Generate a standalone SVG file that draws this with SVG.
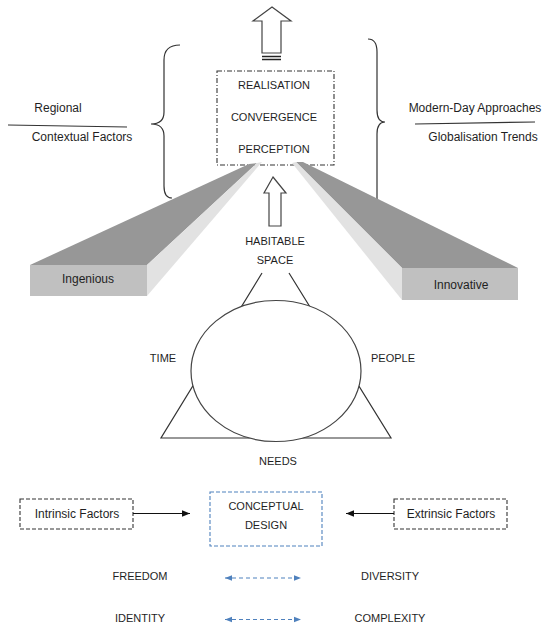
<svg xmlns="http://www.w3.org/2000/svg" width="547" height="627" viewBox="0 0 547 627">
<defs>
<style>
text{font-family:"Liberation Sans",Arial,sans-serif;fill:#1f1f1f;text-anchor:middle}
.c{font-size:11px}
.m{font-size:12px}
.ln{fill:none;stroke:#333;stroke-width:1.2}
.ol{fill:#fff;stroke:#444;stroke-width:1.2}
.dk{fill:#979797}
.fr{fill:#c0c0c0}
.lt{fill:#e2e2e2}
.bl{stroke:#4f81bd;stroke-width:1.2;stroke-dasharray:4,3;fill:none}
</style>
<marker id="ah" viewBox="0 0 10 10" refX="10" refY="5" markerWidth="8" markerHeight="8" orient="auto-start-reverse" markerUnits="userSpaceOnUse"><path d="M0,1 L10,5 L0,9 z" fill="#111"/></marker>
<marker id="bh" viewBox="0 0 10 10" refX="10" refY="5" markerWidth="7" markerHeight="7" orient="auto-start-reverse" markerUnits="userSpaceOnUse"><path d="M0,1 L10,5 L0,9 z" fill="#4f81bd"/></marker>
</defs>
<rect width="547" height="627" fill="#fff"/>

<g id="braces">
<path class="ln" d="M180,45 Q164,45 164,60 L164,112 Q164,124 151,124 Q164,124 164,136 L164,186 Q164,198 172,198"/>
<path class="ln" d="M368,39 Q377,39 377,52 L377,110 Q377,122 385,122 Q377,122 377,134 L377,200"/>
</g>

<g id="left-labels">
<text class="m" x="58" y="112">Regional</text>
<line x1="8" y1="125" x2="127" y2="127" stroke="#333" stroke-width="1.2"/>
<text class="m" x="82" y="141">Contextual Factors</text>
</g>
<g id="right-labels">
<text class="m" x="475" y="112">Modern-Day Approaches</text>
<line x1="415" y1="124" x2="535" y2="122" stroke="#333" stroke-width="1.2"/>
<text class="m" x="483" y="141">Globalisation Trends</text>
</g>

<g id="top-arrow">
<polygon class="ol" points="272,7 291,21 281,21 281,53 262,53 262,21 253,21"/>
<line x1="262" y1="56.5" x2="281" y2="56.5" stroke="#222" stroke-width="1.5"/>
<line x1="262" y1="59.5" x2="281" y2="59.5" stroke="#222" stroke-width="1.5"/>
</g>

<g id="core">
<rect x="217" y="71" width="117" height="94" fill="none" stroke="#333" stroke-width="1.1" stroke-dasharray="5,2,1,2"/>
<text class="c" x="274" y="89">REALISATION</text>
<text class="c" x="274" y="121">CONVERGENCE</text>
<text class="c" x="274" y="153">PERCEPTION</text>
</g>

<g id="beam-left">
<polygon class="dk" points="30,265 147,265 257,163 249,164"/>
<polygon class="lt" points="147,265 147,296 262,162 257,163"/>
<rect class="fr" x="30" y="265" width="117" height="31"/>
<text class="m" x="88" y="283">Ingenious</text>
</g>
<g id="beam-right">
<polygon class="dk" points="296,162 303,162 518,268 402,268"/>
<polygon class="lt" points="292,163 296,162 402,268 402,300"/>
<rect class="fr" x="402" y="268" width="116" height="32"/>
<text class="m" x="461" y="289">Innovative</text>
</g>

<g id="habitable">
<polygon class="ol" points="273,177 286,193 281,193 281,226 269,226 269,193 264,193"/>
<text class="c" x="275" y="245">HABITABLE</text>
<text class="c" x="275" y="264">SPACE</text>
</g>

<g id="triangle">
<polyline class="ln" points="262,273 161,438 391,438 289,273"/>
<ellipse cx="276" cy="371" rx="85" ry="70.5" fill="#fff" stroke="#444" stroke-width="1.2"/>
<text class="c" x="163" y="362">TIME</text>
<text class="c" x="393" y="362">PEOPLE</text>
<text class="c" x="278" y="465">NEEDS</text>
</g>

<g id="intrinsic">
<rect x="20" y="499" width="113" height="30" fill="#fff" stroke="#333" stroke-width="1.1" stroke-dasharray="4,2"/>
<text class="m" x="77" y="518">Intrinsic Factors</text>
</g>
<g id="concept">
<rect x="210" y="492" width="112" height="54" fill="#fff" stroke="#4f81bd" stroke-width="1.1" stroke-dasharray="4,2"/>
<text class="c" x="266" y="510">CONCEPTUAL</text>
<text class="c" x="266" y="529">DESIGN</text>
</g>
<g id="extrinsic">
<rect x="394" y="499" width="113" height="30" fill="#fff" stroke="#333" stroke-width="1.1" stroke-dasharray="4,2"/>
<text class="m" x="451" y="518">Extrinsic Factors</text>
</g>

<g id="pairs">
<text class="c" x="140" y="580">FREEDOM</text>
<text class="c" x="390" y="580">DIVERSITY</text>
<text class="c" x="140" y="622">IDENTITY</text>
<text class="c" x="390" y="622">COMPLEXITY</text>
</g>

<g id="connectors">
<line x1="133" y1="513.5" x2="190" y2="513.5" stroke="#111" stroke-width="1.1" marker-end="url(#ah)"/>
<line x1="394" y1="513.5" x2="346" y2="513.5" stroke="#111" stroke-width="1.1" marker-end="url(#ah)"/>
<line class="bl" x1="225" y1="578" x2="301" y2="578" marker-start="url(#bh)" marker-end="url(#bh)"/>
<line class="bl" x1="225" y1="619.5" x2="301" y2="619.5" marker-start="url(#bh)" marker-end="url(#bh)"/>
</g>
</svg>
